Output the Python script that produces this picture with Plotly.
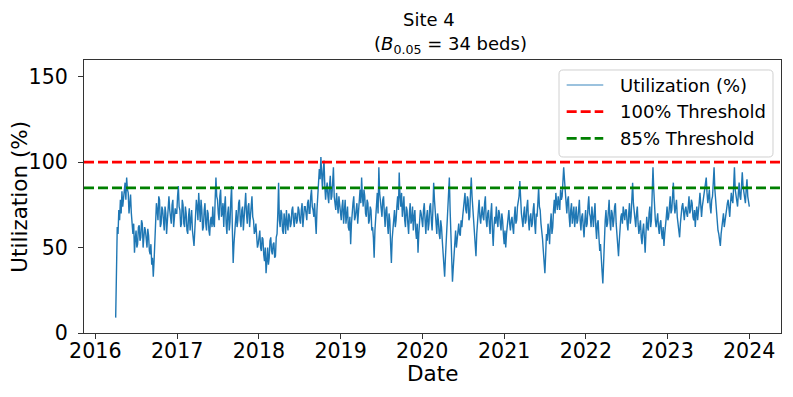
import pandas as pd
import plotly.graph_objects as go

# Utilization (%): weekly values (w*) and the
# in-between half-week values (m*), starting 2016-04-01
start_date = "2016-04-01"
w2016 = [9, 62, 72, 78, 83, 80, 88, 91, 82, 76, 70, 58, 47,
         60, 52, 63, 56, 64, 55, 60, 50, 57, 46, 40, 33, 55,
         76, 66, 78, 64, 72, 60, 70, 65, 80, 68, 75, 62, 73]
m2016 = [55, 58, 66, 70, 74, 85, 78, 84, 70, 81, 60, 64, 55,
         50, 62, 54, 66, 50, 62, 52, 61, 48, 52, 44, 42, 68,
         72, 80, 62, 74, 66, 74, 58, 76, 72, 64, 78, 66, 70]
w2017 = [70, 86, 72, 64, 75, 62, 70, 58, 73, 66, 60, 51, 68,
         74, 82, 65, 72, 62, 76, 60, 70, 57, 68, 74, 62, 91,
         78, 66, 84, 70, 62, 80, 58, 74, 65, 86, 41, 60, 72,
         66, 78, 62, 74, 68, 82, 64, 76, 70, 80, 66, 60, 56]
m2017 = [80, 74, 62, 78, 64, 74, 60, 68, 60, 72, 55, 60, 78,
         66, 72, 78, 60, 72, 64, 72, 60, 66, 62, 64, 78, 80,
         70, 80, 68, 76, 74, 64, 70, 60, 78, 60, 52, 70, 62,
         76, 66, 72, 60, 76, 70, 74, 62, 78, 68, 58, 64, 50]
w2018 = [52, 60, 48, 55, 42, 35, 50, 44, 56, 46, 53, 45, 58,
         88, 62, 70, 58, 66, 72, 60, 68, 64, 74, 62, 70, 66,
         72, 64, 76, 68, 74, 66, 78, 70, 84, 72, 76, 58, 78,
         96, 103, 84, 101, 78, 88, 76, 92, 80, 97, 74, 82, 70]
m2018 = [58, 50, 56, 46, 50, 42, 40, 54, 48, 52, 44, 56, 70,
         66, 72, 60, 70, 58, 64, 70, 62, 72, 66, 70, 64, 74,
         66, 72, 62, 74, 68, 76, 70, 80, 74, 68, 66, 72, 88,
         90, 92, 95, 86, 84, 80, 86, 78, 88, 80, 72, 76, 80]
w2019 = [76, 66, 78, 70, 64, 74, 60, 52, 72, 80, 68, 76, 70,
         84, 91, 74, 80, 68, 76, 66, 72, 62, 44, 70, 82, 97,
         76, 68, 80, 62, 74, 58, 66, 41, 62, 72, 66, 80, 94,
         74, 68, 80, 62, 72, 58, 76, 66, 60, 72, 55, 47, 64]
m2019 = [70, 74, 64, 78, 70, 62, 68, 64, 76, 66, 74, 64, 78,
         76, 80, 84, 70, 78, 64, 74, 60, 56, 60, 76, 70, 82,
         72, 78, 70, 72, 64, 70, 52, 55, 70, 62, 74, 72, 80,
         82, 74, 66, 74, 64, 70, 64, 74, 68, 60, 64, 58, 72]
w2020 = [70, 62, 76, 58, 72, 64, 76, 60, 88, 70, 58, 66, 55,
         62, 48, 33, 52, 68, 91, 58, 30, 45, 60, 55, 64, 57,
         62, 74, 82, 70, 78, 68, 91, 72, 60, 45, 66, 78, 64,
         74, 66, 80, 62, 72, 58, 76, 51, 68, 74, 62, 70, 60]
m2020 = [64, 72, 66, 68, 60, 74, 66, 72, 78, 62, 70, 58, 66,
         54, 40, 44, 62, 80, 72, 42, 38, 56, 50, 62, 58, 66,
         68, 78, 72, 80, 66, 82, 80, 64, 52, 58, 72, 68, 70,
         68, 76, 66, 70, 64, 70, 60, 62, 64, 66, 72, 64, 70]
w2021 = [66, 52, 50, 64, 72, 60, 68, 58, 74, 66, 78, 89, 70,
         62, 74, 66, 78, 60, 70, 64, 76, 58, 68, 85, 72, 60,
         48, 35, 58, 64, 52, 70, 62, 78, 82, 72, 76, 84, 80,
         97, 84, 70, 80, 62, 76, 68, 62, 74, 66, 78, 60, 70]
m2021 = [58, 60, 58, 70, 64, 66, 62, 68, 64, 74, 80, 76, 66,
         70, 64, 74, 66, 68, 62, 72, 64, 70, 76, 74, 64, 55,
         42, 46, 54, 60, 64, 58, 72, 70, 76, 80, 72, 78, 88,
         90, 76, 78, 68, 72, 64, 74, 70, 64, 72, 66, 68, 62]
w2022 = [56, 72, 64, 80, 68, 74, 62, 76, 55, 66, 48, 40, 29,
         58, 72, 64, 78, 60, 70, 66, 76, 58, 45, 62, 70, 74,
         66, 72, 60, 76, 68, 88, 70, 62, 74, 58, 66, 52, 64,
         47, 68, 60, 74, 66, 97, 72, 62, 70, 58, 66, 55, 51]
m2022 = [66, 62, 74, 70, 62, 68, 70, 62, 64, 56, 52, 36, 46,
         66, 62, 72, 66, 72, 62, 74, 64, 52, 54, 68, 64, 70,
         72, 64, 70, 64, 78, 76, 64, 70, 64, 62, 56, 60, 56,
         58, 62, 70, 62, 82, 84, 66, 68, 62, 64, 58, 62, 58]
w2023 = [62, 74, 68, 80, 72, 88, 70, 78, 64, 56, 70, 76, 66,
         74, 68, 80, 72, 76, 66, 62, 74, 70, 82, 68, 78, 84,
         91, 76, 84, 70, 80, 97, 78, 66, 58, 51, 62, 70, 66,
         72, 78, 68, 82, 76, 97, 80, 74, 88, 78, 94, 82, 76, 90, 76]
m2023 = [68, 66, 76, 70, 80, 76, 74, 68, 58, 64, 74, 68, 72,
         70, 74, 70, 78, 68, 72, 70, 66, 76, 72, 74, 80, 88,
         82, 80, 74, 78, 88, 84, 70, 60, 54, 58, 68, 62, 70,
         76, 70, 76, 78, 86, 84, 76, 82, 80, 86, 86, 78, 84, 80, 74]

thresholds = [100, 85]
threshold_names = ["100% Threshold", "85% Threshold"]
threshold_colors = ["red", "green"]
series_name = "Utilization (%)"
year_ticks = list(range(2016, 2025))
y_ticks = [0, 50, 100, 150]

weekly = w2016 + w2017 + w2018 + w2019 + w2020 + w2021 + w2022 + w2023
midweek = m2016 + m2017 + m2018 + m2019 + m2020 + m2021 + m2022 + m2023
values = [v for pair in zip(weekly, midweek) for v in pair]
dates = pd.date_range(start_date, periods=len(values), freq="84h")

d0, d1 = dates[0], dates[-1]
span = d1 - d0
x_range = [d0 - span * 0.05, d1 + span * 0.05]

FONT = "DejaVu Sans"

fig = go.Figure()
fig.add_trace(go.Scatter(
    x=dates, y=values, mode="lines", name=series_name,
    line=dict(color="#1f77b4", width=1.4), showlegend=False,
))
for thr, nm, col in zip(thresholds, threshold_names, threshold_colors):
    fig.add_trace(go.Scatter(
        x=[x_range[0], x_range[1]], y=[thr, thr], mode="lines", name=nm,
        line=dict(color=col, width=2.8, dash="10px,4px"), showlegend=False,
    ))

# ---- hand-built legend box (matplotlib style) ----
lx0, lx1, ly0, ly1 = 0.6815, 0.9885, 0.6447, 0.9634
rx, ry = 0.006, 0.015
box_path = (f"M {lx0+rx},{ly0} L {lx1-rx},{ly0} Q {lx1},{ly0} {lx1},{ly0+ry} "
            f"L {lx1},{ly1-ry} Q {lx1},{ly1} {lx1-rx},{ly1} "
            f"L {lx0+rx},{ly1} Q {lx0},{ly1} {lx0},{ly1-ry} "
            f"L {lx0},{ly0+ry} Q {lx0},{ly0} {lx0+rx},{ly0} Z")
shapes = [dict(type="path", path=box_path, xref="paper", yref="paper",
               line=dict(color="#d0d0d0", width=1),
               fillcolor="rgba(255,255,255,0.85)", layer="above")]
row_y = [0.9084, 0.8106, 0.7131]
legend_names = [series_name] + threshold_names
legend_styles = [dict(color="rgba(31,119,180,0.6)", width=1.5),
                 dict(color="red", width=2.8, dash="10px,4px"),
                 dict(color="green", width=2.8, dash="10px,4px")]
annotations = []
for yy, nm, st in zip(row_y, legend_names, legend_styles):
    shapes.append(dict(type="line", xref="paper", yref="paper",
                       x0=0.6925, x1=0.7450, y0=yy, y1=yy, line=st, layer="above"))
    annotations.append(dict(text=nm, x=0.7665, y=yy, xref="paper", yref="paper",
                            showarrow=False, xanchor="left", yanchor="middle",
                            font=dict(family=FONT, size=18, color="black")))

annotations += [
    dict(text="Site 4", x=0.495, y=1.150, xref="paper", yref="paper",
         showarrow=False, xanchor="center", yanchor="middle",
         font=dict(family=FONT, size=18, color="black")),
    dict(text="(<i>B</i><sub>0.05</sub> = 34 beds)", x=0.5265, y=1.055,
         xref="paper", yref="paper", showarrow=False,
         xanchor="center", yanchor="middle",
         font=dict(family=FONT, size=18, color="black")),
    dict(text="Date", x=0.5, y=-0.148, xref="paper", yref="paper",
         showarrow=False, xanchor="center", yanchor="middle", borderpad=0,
         font=dict(family=FONT, size=21.5, color="black")),
    dict(text="Utilization (%)", x=-0.093, y=0.5, xref="paper", yref="paper",
         showarrow=False, xanchor="center", yanchor="middle", textangle=-90,
         font=dict(family=FONT, size=21.5, color="black")),
]

axis_common = dict(
    showline=True, mirror=True, linecolor="#333333", linewidth=1,
    ticks="outside", ticklen=5, tickwidth=1, tickcolor="#333333",
    showgrid=False, zeroline=False, automargin=False,
    tickfont=dict(family=FONT, size=20.6, color="black"),
)

fig.update_layout(
    width=793, height=397,
    margin=dict(l=84, r=12, t=60, b=64),
    paper_bgcolor="white", plot_bgcolor="white",
    font=dict(family=FONT, color="black"),
    showlegend=False,
    xaxis=dict(
        range=x_range,
        tickvals=[pd.Timestamp(f"{y}-01-01") for y in year_ticks],
        ticktext=[str(y) for y in year_ticks],
        ticklabelstandoff=-6,
        **axis_common,
    ),
    yaxis=dict(
        range=[0, 159.8], tickvals=y_ticks, ticktext=[str(v) for v in y_ticks],
        ticklabelstandoff=6,
        **axis_common,
    ),
    shapes=shapes,
    annotations=annotations,
)

fig.write_html(
    "out.html",
    config={"displayModeBar": False},
    post_script="document.body.style.margin='0';document.body.style.overflow='hidden';",
)
